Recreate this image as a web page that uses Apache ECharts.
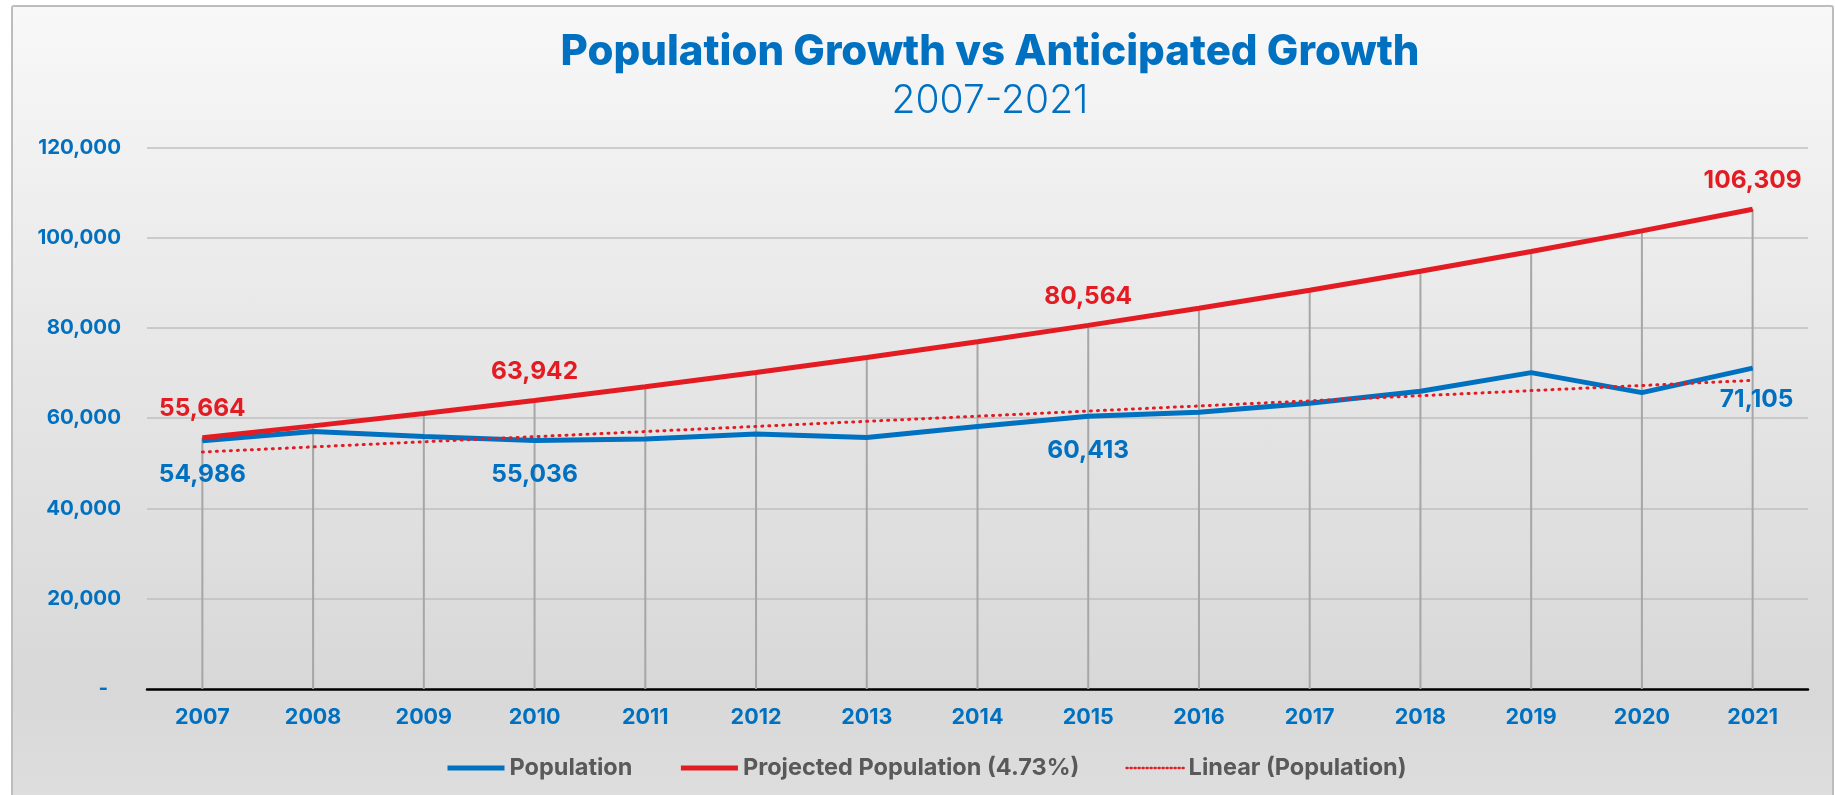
<!DOCTYPE html>
<html>
<head>
<meta charset="utf-8">
<script src="https://cdn.jsdelivr.net/npm/echarts@6/dist/echarts.min.js"></script>
<style>
  html, body { margin: 0; padding: 0; background: #ffffff; width: 1835px; height: 795px; overflow: hidden; }
  #frame {
    position: absolute; left: 11px; top: 5px; width: 1819px; height: 800px;
    border: 2px solid #bdbdbd; border-radius: 3px;
    background: linear-gradient(to bottom, #f8f8f8 0%, #e6e6e6 45%, #d8d8d8 85%, #dedede 100%);
  }
  #chart { position: absolute; left: 0; top: 0; width: 1835px; height: 795px; }
</style>
</head>
<body>
<div id="frame"></div>
<div id="chart"></div>
<script>
const years = ['2007','2008','2009','2010','2011','2012','2013','2014','2015','2016','2017','2018','2019','2020','2021'];
const population = [54986, 57030, 55920, 55036, 55410, 56520, 55700, 58140, 60413, 61330, 63320, 65980, 70100, 65670, 71105];
const projected = [55664, 58297, 61054, 63942, 66966, 70134, 73451, 76925, 80564, 84375, 88366, 92546, 96923, 101508, 106309];
const linearTrend = [52509, 53643, 54776, 55910, 57044, 58177, 59311, 60444, 61578, 62712, 63845, 64979, 66113, 67246, 68380];
const labeledIdx = [0, 3, 8, 14];
const yMin = 0, yMax = 120000, yStep = 20000;

const BLUE = '#0070C0';
const RED = '#E31B23';
const FONT = 'Inter, "Open Sans", sans-serif';
const fmt = v => Number(v).toLocaleString('en-US');

const blueData = population.map((v, i) => {
  if (!labeledIdx.includes(i)) return v;
  const last = i === population.length - 1;
  return { value: v, label: { show: true, position: 'bottom', distance: last ? 19 : 21, offset: last ? [4, 0] : [0, 0] } };
});
const redData = projected.map((v, i) => {
  if (!labeledIdx.includes(i)) return v;
  return { value: v, label: { show: true, position: 'top', distance: 16 } };
});

const labelStyle = color => ({ show: false, color: color, fontSize: 24.5, fontWeight: 'bold', fontFamily: FONT, formatter: p => fmt(p.value) });

const chart = echarts.init(document.getElementById('chart'), null, { renderer: 'canvas' });
chart.setOption({
  animation: false,
  backgroundColor: 'transparent',
  textStyle: { fontFamily: FONT },
  graphic: [
    { type: 'text', x: 990, y: 52, style: { text: 'Population Growth vs Anticipated Growth', fill: BLUE, font: '800 42px ' + FONT, textAlign: 'center', textVerticalAlign: 'middle' } },
    { type: 'text', x: 990, y: 101, style: { text: '2007-2021', fill: BLUE, font: '300 39px ' + FONT, textAlign: 'center', textVerticalAlign: 'middle' } }
  ],
  grid: { left: 147, right: 27, top: 147.4, bottom: 106, containLabel: false },
  legend: {
    left: 440, top: 751,
    itemWidth: 57, itemHeight: 16, itemGap: 46,
    data: [
      { name: 'Population', lineStyle: { width: 5 } },
      { name: 'Projected Population (4.73%)', lineStyle: { width: 5 } },
      { name: 'Linear (Population)', lineStyle: { width: 2.5, type: [1, 3] } }
    ],
    itemStyle: { opacity: 0 },
    textStyle: { color: '#595959', fontSize: 23.5, fontWeight: 'bold', fontFamily: FONT, padding: [0, 0, 0, 0] }
  },
  xAxis: {
    type: 'category', data: years, boundaryGap: true,
    axisLine: { lineStyle: { color: '#000000', width: 2.5 } },
    axisTick: { show: false },
    axisLabel: { color: BLUE, fontSize: 21.5, fontWeight: 'bold', fontFamily: FONT, margin: 18 },
    splitLine: { show: false }
  },
  yAxis: {
    type: 'value', min: yMin, max: yMax, interval: yStep,
    axisLine: { show: false }, axisTick: { show: false },
    axisLabel: {
      color: BLUE, fontSize: 20.5, fontWeight: 'bold', fontFamily: FONT, margin: 26,
      formatter: v => v === 0 ? '{d|-}' : fmt(v),
      rich: { d: { color: BLUE, fontSize: 20.5, fontWeight: 'bold', fontFamily: FONT, padding: [0, 13, 0, 0] } }
    },
    splitLine: { lineStyle: { color: '#bfbfbf', width: 1.5 } }
  },
  series: [
    {
      name: 'drop', type: 'bar', data: projected, barWidth: 2, silent: true,
      itemStyle: { color: '#a6a6a6' }, z: 1
    },
    {
      name: 'Population', type: 'line', data: blueData, symbol: 'circle', symbolSize: 1, showSymbol: true, z: 3,
      lineStyle: { color: BLUE, width: 5 }, itemStyle: { color: BLUE },
      label: labelStyle(BLUE)
    },
    {
      name: 'Projected Population (4.73%)', type: 'line', data: redData, symbol: 'circle', symbolSize: 1, showSymbol: true, z: 4,
      lineStyle: { color: RED, width: 5 }, itemStyle: { color: RED },
      label: labelStyle(RED)
    },
    {
      name: 'Linear (Population)', type: 'line', data: linearTrend, symbol: 'none', z: 5,
      lineStyle: { color: RED, width: 3, type: [1, 6], cap: 'round' }, itemStyle: { color: RED }
    }
  ]
});
</script>
</body>
</html>
